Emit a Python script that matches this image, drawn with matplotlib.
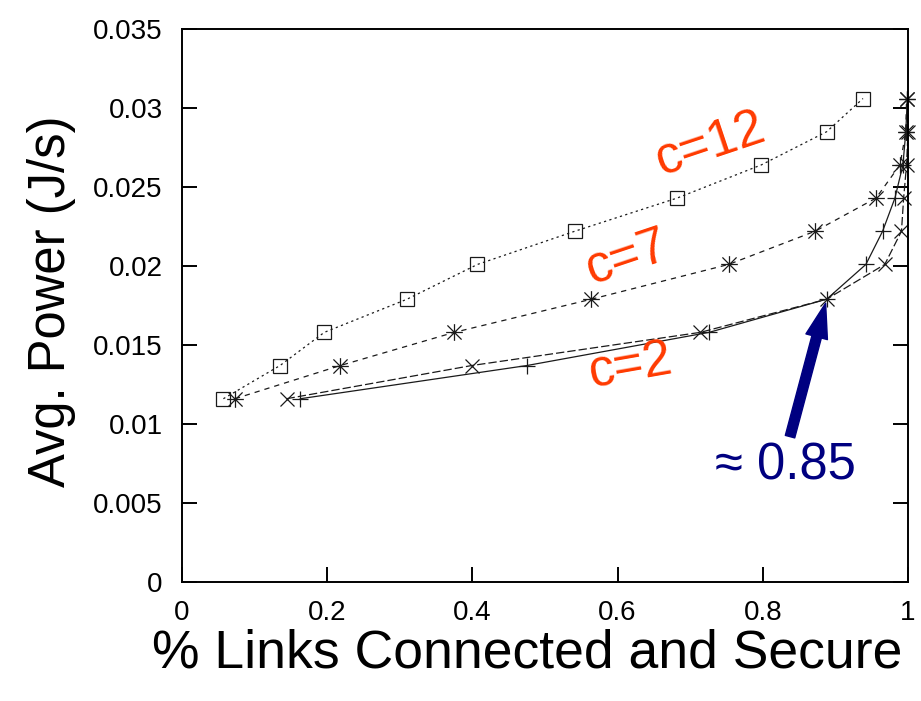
import matplotlib
matplotlib.use("Agg")
import matplotlib.pyplot as plt
from matplotlib.path import Path
from matplotlib.markers import MarkerStyle

plt.rcParams["font.family"] = ["Liberation Sans", "DejaVu Sans"]
plt.rcParams["lines.scale_dashes"] = False

# Power levels (J/s) shared by every curve
power = [0.0116, 0.0137, 0.0158, 0.0179, 0.0201, 0.0222, 0.0243, 0.0264, 0.0285, 0.0306]

# Fraction of links connected and secure for each power level
c12_frac = [0.057, 0.135, 0.196, 0.310, 0.407, 0.541, 0.682, 0.798, 0.888, 0.938]
c7_frac = [0.073, 0.218, 0.375, 0.564, 0.753, 0.872, 0.956, 0.989, 0.997, 0.998]
c2a_frac = [0.163, 0.475, 0.726, 0.888, 0.942, 0.965, 0.982, 0.993, 0.997, 0.999]
c2b_frac = [0.144, 0.399, 0.714, 0.888, 0.968, 0.991, 0.994, 0.998, 1.000, 0.999]

x_ticks = [0, 0.2, 0.4, 0.6, 0.8, 1]
x_tick_labels = ["0", "0.2", "0.4", "0.6", "0.8", "1"]
y_ticks = [0, 0.005, 0.01, 0.015, 0.02, 0.025, 0.03, 0.035]
y_tick_labels = ["0", "0.005", "0.01", "0.015", "0.02", "0.025", "0.03", "0.035"]

curve_labels = ["c=12", "c=7", "c=2"]
note_text = "\u2248 0.85"
note_value = 0.888

ink = "#1a1a1a"
red = "#ff3a00"
navy = "#000080"

# gnuplot-style asterisk: a plus sign overlaid with a cross
d = 0.85
star = MarkerStyle(Path(
    [(-1, 0), (1, 0), (0, -1), (0, 1), (-d, -d), (d, d), (-d, d), (d, -d)],
    [Path.MOVETO, Path.LINETO] * 4))

fig = plt.figure(figsize=(9.21, 7.01), dpi=100)
ax = fig.add_axes([182 / 921, 1 - 582 / 701, 726 / 921, 553 / 701])

common = dict(color=ink, lw=0.9, mew=0.9, clip_on=False)
ax.plot(c12_frac, power, marker="s", ms=10.5, mfc="none", dashes=(1.6, 2.4), **common)
ax.plot(c7_frac, power, marker=star, ms=12, dashes=(3.8, 3.6), **common)
ax.plot(c2a_frac, power, marker="+", ms=11, **common)
ax.plot(c2b_frac, power, marker="x", ms=10, dashes=(6.0, 2.2), **common)

ax.set_xlim(0, 1)
ax.set_ylim(0, 0.035)
ax.set_xticks(x_ticks)
ax.set_xticklabels(x_tick_labels)
ax.set_yticks(y_ticks)
ax.set_yticklabels(y_tick_labels)
ax.tick_params(axis="both", direction="in", length=11, width=1.4, labelsize=20,
               colors="black")
ax.tick_params(axis="x", top=False, pad=13)
ax.tick_params(axis="y", right=True, pad=14)
for s in ax.spines.values():
    s.set_linewidth(1.4)

fig.text(527 / 921, 1 - 668 / 701, "% Links Connected and Secure", fontsize=38.5,
         ha="center", va="baseline")
fig.text(65 / 921, 1 - 301 / 701, "Avg. Power (J/s)", fontsize=36.5, rotation=90,
         rotation_mode="anchor", ha="center", va="baseline")

ax.text(0.729, 0.02766, curve_labels[0], color=red, fontsize=37, rotation=18.5,
        ha="center", va="center", rotation_mode="anchor")
ax.text(0.613, 0.02057, curve_labels[1], color=red, fontsize=37, rotation=18.5,
        ha="center", va="center", rotation_mode="anchor")
ax.text(0.618, 0.01361, curve_labels[2], color=red, fontsize=37, rotation=10,
        ha="center", va="center", rotation_mode="anchor")

ax.annotate("", xy=(note_value, power[3]), xytext=(0.8375, 0.0092),
            arrowprops=dict(arrowstyle="simple,head_length=1.25,head_width=0.8,tail_width=0.35",
                            mutation_scale=20, color=navy, shrinkA=0, shrinkB=3))
ax.text(0.8306, 0.00734, note_text, color=navy, fontsize=36.5, ha="center", va="center")

fig.savefig("out.png", dpi=100)
